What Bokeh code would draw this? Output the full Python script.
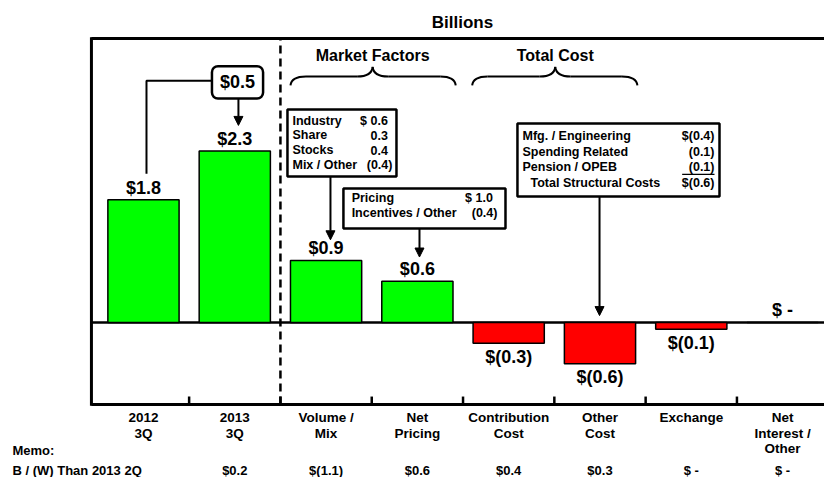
from bokeh.plotting import figure
from bokeh.models import Range1d, Arrow, NormalHead, ColumnDataSource
from bokeh.core.properties import value
from bokeh.embed import file_html
from bokeh.resources import INLINE

# ---------------- data ----------------
categories = ["2012\n3Q", "2013\n3Q", "Volume /\nMix", "Net\nPricing", "Contribution\nCost",
              "Other\nCost", "Exchange", "Net\nInterest /\nOther"]
bar_values = [1.78, 2.49, 0.90, 0.60, -0.30, -0.60, -0.10, 0.0]
bar_labels = ["$1.8", "$2.3", "$0.9", "$0.6", "$(0.3)", "$(0.6)", "$(0.1)", "$ -"]
memo_values = ["", "$0.2", "$(1.1)", "$0.6", "$0.4", "$0.3", "$ -", "$ -"]
memo_title = "Memo:"
memo_row = "B / (W) Than 2013 2Q"
change_label = "$0.5"
unit_title = "Billions"

market_items = ["Industry", "Share", "Stocks", "Mix / Other"]
market_values = ["$ 0.6", "0.3", "0.4", "(0.4)"]
pricing_items = ["Pricing", "Incentives / Other"]
pricing_values = ["$ 1.0", "(0.4)"]
cost_items = ["Mfg. / Engineering", "Spending Related", "Pension / OPEB", "Total Structural Costs"]
cost_values = ["$(0.4)", "(0.1)", "(0.1)", "$(0.6)"]

GREEN = "#00FF00"
RED = "#FF0000"
FONT = "Liberation Sans"

# plot-area extents (data units)
X0, X1 = -0.57, 7.46
Y0, Y1 = -1.19, 4.12

idx = list(range(len(categories)))
colors = [GREEN if v >= 0 else RED for v in bar_values]

p = figure(width=824, height=477, output_backend="svg", toolbar_location=None,
           x_range=Range1d(-1.566, 7.459), y_range=Range1d(-2.250, 4.673),
           min_border=0, title=None)
p.outline_line_color = None
p.grid.visible = False
p.axis.visible = False
p.background_fill_color = "white"
p.border_fill_color = "white"

def txt(x, y, t, size, align="center", base="middle", **kw):
    return p.text(x=x, y=y, text=t, text_align=align, text_baseline=base,
                  text_font=value(FONT), text_font_style="bold", text_font_size=size, **kw)

# frame: left, top, bottom (axis) lines, zero line, dashed separator, ticks
p.segment(x0=[X0, X0, X0], y0=[Y0 - 0.02, Y1, Y0], x1=[X0, X1, X1], y1=[Y1 + 0.02, Y1, Y0],
          line_width=3, line_color="black")
p.segment(x0=[X0], y0=[0], x1=[X1], y1=[0], line_width=2.5, line_color="black")
p.segment(x0=[1.5], y0=[Y0], x1=[1.5], y1=[Y1], line_width=2.5, line_color="black",
          line_dash="8 5")
bounds = [i + 0.5 for i in idx[:-1]]
p.segment(x0=bounds, y0=[Y0] * len(bounds), x1=bounds, y1=[Y0 + 0.115] * len(bounds),
          line_width=2.5, line_color="black")

# bars
src = ColumnDataSource(dict(x=idx, top=bar_values, color=colors, label=bar_labels,
                            ly=[v + 0.03 if v >= 0 else v - 0.05 for v in bar_values],
                            base=["bottom" if v >= 0 else "top" for v in bar_values]))
p.vbar(x="x", top="top", bottom=0, width=0.78, fill_color="color", line_color="black",
       line_width=1.5, source=src)
p.text(x="x", y="ly", text="label", text_baseline="base", text_align="center",
       text_font=value(FONT), text_font_style="bold", text_font_size="18px", source=src)

# title
txt([3.494], [4.354], [unit_title], "17px")

# category labels and memo row
txt(idx, [-1.277] * len(idx), categories, "13.5px", base="top", text_line_height=1.02)
txt(idx, [-2.148] * len(idx), memo_values, "13px")
txt([-1.435], [-1.858], [memo_title], "13px", align="left")
txt([-1.435], [-2.148], [memo_row], "13px", align="left")

# $0.5 change box
p.quad(left=0.75, right=1.31, bottom=3.25, top=3.72, fill_color="white", line_color="black",
       line_width=2.5, border_radius=6)
txt([1.03], [3.485], [change_label], "18px")
p.line(x=[0.75, 0.033, 0.033], y=[3.51, 3.51, 2.16], line_width=2, line_color="black")

def arrow(x, y0, y1):
    p.add_layout(Arrow(end=NormalHead(size=9, fill_color="black", line_color="black"),
                       x_start=x, y_start=y0, x_end=x, y_end=y1,
                       line_width=2, line_color="black"))

arrow(1.04, 3.25, 2.86)

# braces
def brace(x0, x1, xm, yb, yh, yt, label):
    r = 0.17
    p.quadratic(x0=[x0, xm - r, xm + r, x1], y0=[yb, yh, yh, yb],
                x1=[x0 + r, xm, xm, x1 - r], y1=[yh, yt, yt, yh],
                cx=[x0 + 0.01, xm - 0.01, xm + 0.01, x1 - 0.01],
                cy=[yh, yh, yh, yh], line_width=2, line_color="black")
    p.segment(x0=[x0 + r, xm + r], y0=[yh, yh], x1=[xm - r, x1 - r], y1=[yh, yh],
              line_width=2, line_color="black")
    txt([xm], [3.875], [label], "16px")

brace(1.61, 3.42, 2.51, 3.44, 3.57, 3.71, "Market Factors")
brace(3.60, 5.41, 4.51, 3.44, 3.57, 3.71, "Total Cost")

def box(left, right, top, bottom, items, vals, ys, tx, vx, indent=None, fs="12.5px"):
    p.quad(left=left, right=right, bottom=bottom, top=top, fill_color="white",
           line_color="black", line_width=2.5)
    txs = [tx] * len(items) if indent is None else indent
    txt(txs, ys, items, fs, align="left")
    vxs = [vx if v.endswith(")") else vx - 0.05 for v in vals]
    txt(vxs, ys, vals, fs, align="right")

box(1.577, 2.771, 3.09, 2.12, market_items, market_values, [2.93, 2.715, 2.50, 2.285],
    1.632, 2.727)
arrow(2.048, 2.12, 1.20)

box(2.19, 3.965, 1.945, 1.364, pricing_items, pricing_values, [1.80, 1.585], 2.28, 3.877)
arrow(3.023, 1.364, 0.95)

box(4.096, 6.309, 2.888, 1.829, cost_items, cost_values, [2.70, 2.48, 2.26, 2.03], 4.151,
    6.254, indent=[4.151, 4.151, 4.151, 4.239])
p.segment(x0=[5.90], y0=[2.148], x1=[6.254], y1=[2.148], line_width=1.2, line_color="black")
arrow(4.995, 1.829, 0.10)

open("out.html", "w").write(file_html(p, INLINE))
